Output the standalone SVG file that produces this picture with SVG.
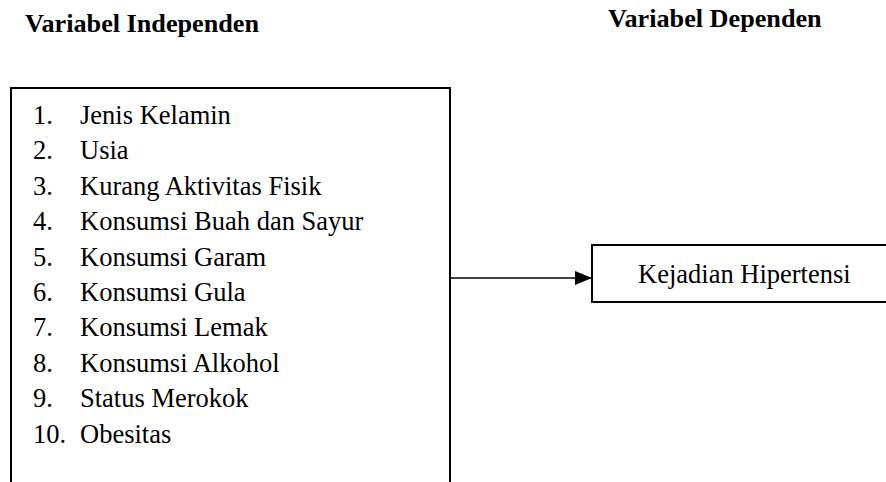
<svg xmlns="http://www.w3.org/2000/svg" width="886" height="482" viewBox="0 0 886 482">
<defs>
<style>
.t{font-family:"Liberation Serif","Times New Roman",serif;font-size:26.5px;fill:#000}
.h{font-family:"Liberation Serif","Times New Roman",serif;font-size:26.2px;font-weight:bold;fill:#000}
.box{fill:#fff;stroke:#000;stroke-width:2}
</style>
<marker id="ah" markerWidth="17" markerHeight="14" refX="17" refY="7" orient="auto" markerUnits="userSpaceOnUse">
<path d="M0,0 L17,7 L0,14 Z" fill="#000"/>
</marker>
</defs>
<rect width="886" height="482" fill="#fff"/>
<text class="h" x="25" y="32">Variabel Independen</text>
<text class="h" x="608" y="27">Variabel Dependen</text>
<g id="independen">
<rect class="box" x="11" y="88" width="439" height="420"/>
<text class="t" x="33" y="124">1.</text><text class="t" x="80" y="124">Jenis Kelamin</text>
<text class="t" x="33" y="159.4">2.</text><text class="t" x="80" y="159.4">Usia</text>
<text class="t" x="33" y="194.8">3.</text><text class="t" x="80" y="194.8">Kurang Aktivitas Fisik</text>
<text class="t" x="33" y="230.2">4.</text><text class="t" x="80" y="230.2">Konsumsi Buah dan Sayur</text>
<text class="t" x="33" y="265.6">5.</text><text class="t" x="80" y="265.6">Konsumsi Garam</text>
<text class="t" x="33" y="301">6.</text><text class="t" x="80" y="301">Konsumsi Gula</text>
<text class="t" x="33" y="336.4">7.</text><text class="t" x="80" y="336.4">Konsumsi Lemak</text>
<text class="t" x="33" y="371.8">8.</text><text class="t" x="80" y="371.8">Konsumsi Alkohol</text>
<text class="t" x="33" y="407.2">9.</text><text class="t" x="80" y="407.2">Status Merokok</text>
<text class="t" x="33" y="442.6">10.</text><text class="t" x="80" y="442.6">Obesitas</text>
</g>
<g id="dependen">
<rect class="box" x="592" y="245" width="310" height="57"/>
<text class="t" x="638" y="283">Kejadian Hipertensi</text>
</g>
<g id="connectors">
<line x1="451" y1="278" x2="592" y2="278" stroke="#000" stroke-width="1.5" marker-end="url(#ah)"/>
</g>
</svg>
